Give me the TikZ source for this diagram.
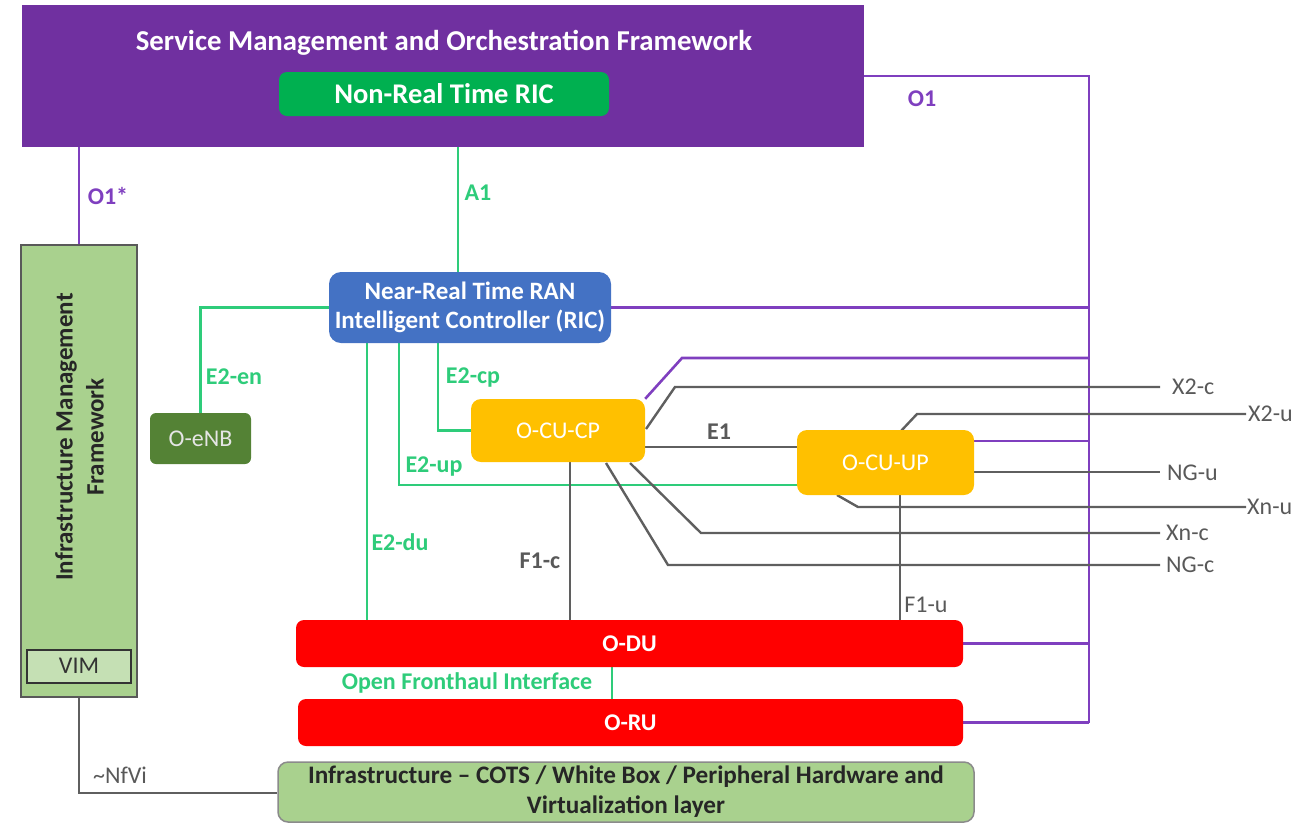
\documentclass[tikz,border=0pt]{standalone}
\usepackage{fontspec}
\setmainfont{Carlito}
\usetikzlibrary{backgrounds}
\definecolor{smoc}{HTML}{7030A0}
\definecolor{plc}{HTML}{7F3FBF}
\definecolor{nrtc}{HTML}{00B050}
\definecolor{glc}{HTML}{2ECC7A}
\definecolor{ricc}{HTML}{4472C4}
\definecolor{cuc}{HTML}{FFC000}
\definecolor{duc}{HTML}{FF0000}
\definecolor{enbc}{HTML}{548235}
\definecolor{imfc}{HTML}{A9D18E}
\definecolor{vimc}{HTML}{C5E0B4}
\definecolor{klc}{HTML}{5F5F5F}
\definecolor{ktc}{HTML}{595959}
\begin{document}
\begin{tikzpicture}[x=1pt,y=-1pt,
  font=\fontsize{24}{29}\selectfont,
  sz/.style 2 args={minimum width=#1pt,minimum height=#2pt,inner sep=0pt},
  wt/.style={text=white,align=center},
  bf/.style={font=\fontsize{24}{29}\selectfont\bfseries},
  pline/.style={draw=plc,line width=2.6pt},
  gline/.style={draw=glc,line width=2.4pt},
  kline/.style={draw=klc,line width=2.4pt},
  glbl/.style={text=glc,font=\fontsize{24}{29}\selectfont\bfseries,inner sep=0pt},
  plbl/.style={text=plc,font=\fontsize{24}{29}\selectfont\bfseries,inner sep=0pt},
  kblbl/.style={text=ktc,font=\fontsize{24}{29}\selectfont\bfseries,inner sep=0pt},
  klbl/.style={text=ktc,inner sep=0pt,anchor=west}]
\useasboundingbox (0,0) rectangle (1296,823);
% boxes
\node[fill=smoc,sz={842}{142}] (smo) at (443,76) {};
\node[wt,font=\fontsize{28.8}{33}\selectfont\bfseries] (smot) at (444,43) {Service Management and Orchestration Framework};
\node[fill=nrtc,rounded corners=8pt,sz={330}{44},wt,font=\fontsize{28.5}{33}\selectfont\bfseries] (nonrt) at (444,94) {Non-Real Time RIC};
\node[fill=ricc,rounded corners=12pt,sz={282}{71},wt,font=\fontsize{25}{29}\selectfont\bfseries] (ric) at (470,307.5) {Near-Real Time RAN\\Intelligent Controller (RIC)};
\node[fill=imfc,draw=ktc,line width=2pt,sz={116}{452}] (imf) at (79,471) {};
\node[rotate=90,align=center,text=black!85,font=\fontsize{25}{31}\selectfont\bfseries] (imft) at (79.5,437) {Infrastructure Management\\Framework};
\node[fill=vimc,draw=black!80,line width=2pt,sz={104}{33},text=black!80] (vim) at (79,666) {VIM};
\node[fill=enbc,rounded corners=6pt,sz={101}{51},text=white!90!black] (oenb) at (200.5,438.5) {O-eNB};
\node[fill=cuc,rounded corners=10pt,sz={174}{63},text=white] (cucp) at (558,430.5) {O-CU-CP};
\node[fill=cuc,rounded corners=10pt,sz={177}{65},text=white] (cuup) at (885.5,462.5) {O-CU-UP};
\node[fill=duc,rounded corners=8pt,sz={667}{47},wt,bf] (odu) at (629.5,643.5) {O-DU};
\node[fill=duc,rounded corners=8pt,sz={665}{47},wt,bf] (oru) at (630.5,722.5) {O-RU};
\node[fill=imfc,draw=ktc!70,line width=1.5pt,rounded corners=10pt,sz={696}{60},align=center,text=black!85,font=\fontsize{25.2}{30}\selectfont\bfseries] (infra) at (626,792) {Infrastructure -- COTS / White Box / Peripheral Hardware and\\Virtualization layer};
% coordinates
\coordinate (bus) at (1089,76);
\coordinate (a1x) at (458,0);
\coordinate (cpx) at (438,0);
\coordinate (upx) at (399,0);
\coordinate (dux) at (367,0);
\coordinate (fhx) at (612,0);
\coordinate (f1cx) at (570,0);
\coordinate (f1ux) at (900,0);
\coordinate (e1y) at (0,447);
\coordinate (upy) at (0,485);
\coordinate (cpbend) at (682,358);
\coordinate (x2cs) at (646,429);
\coordinate (x2cb) at (675,387);
\coordinate (x2ce) at (1160,387);
\coordinate (xncs) at (630,463);
\coordinate (xncb) at (701,533);
\coordinate (xnce) at (1160,533);
\coordinate (ngcs) at (606,463);
\coordinate (ngcb) at (668,565);
\coordinate (ngce) at (1160,565);
\coordinate (x2us) at (901,431);
\coordinate (x2ub) at (917,414);
\coordinate (x2ue) at (1246,414);
\coordinate (ngue) at (1160,472);
\coordinate (xnus) at (837,495);
\coordinate (xnub) at (858,507);
\coordinate (xnue) at (1246,507);
\coordinate (nfy) at (0,793);
% connectors
\begin{pgfonlayer}{background}
\draw[pline] (smo.east) -- (bus) -- (bus |- oru.east);
\draw[pline] (imf.north) -- (imf.north |- smo.south);
\draw[pline] (ric.east) -- (ric.east -| bus);
\draw[pline] (cucp.north east) -- (cpbend) -- (cpbend -| bus);
\draw[pline] (cuup.east |- 0,441) -- (bus |- 0,441);
\draw[pline] (odu.east) -- (odu.east -| bus);
\draw[pline] (oru.east) -- (oru.east -| bus);
\draw[gline] (nonrt.south -| a1x) -- (ric.north -| a1x);
\draw[gline] (ric.west) -| (oenb.north);
\draw[gline] (ric.south -| cpx) |- (cucp.west);
\draw[gline] (ric.south -| upx) |- (cuup.west |- upy);
\draw[gline] (ric.south -| dux) -- (odu.north -| dux);
\draw[gline] (odu.south -| fhx) -- (oru.north -| fhx);
\draw[kline] (cucp.east |- e1y) -- (cuup.west |- e1y);
\draw[kline] (x2cs) -- (x2cb) -- (x2ce);
\draw[kline] (xncs) -- (xncb) -- (xnce);
\draw[kline] (ngcs) -- (ngcb) -- (ngce);
\draw[kline] (cucp.south -| f1cx) -- (odu.north -| f1cx);
\draw[kline] (x2us) -- (x2ub) -- (x2ue);
\draw[kline] (cuup.east |- ngue) -- (ngue);
\draw[kline] (xnus) -- (xnub) -- (xnue);
\draw[kline] (cuup.south -| f1ux) -- (odu.north -| f1ux);
\draw[kline] (imf.south) |- (infra.west |- nfy);
\end{pgfonlayer}
% labels
\node[plbl] (lo1s) at (108,196) {O1*};
\node[plbl] (lo1) at (922,99) {O1};
\node[glbl] (la1) at (478,193) {A1};
\node[glbl] (le2en) at (234,377) {E2-en};
\node[glbl] (le2cp) at (473,378) {E2-cp};
\node[glbl] (le2up) at (434,467) {E2-up};
\node[glbl] (le2du) at (400,542) {E2-du};
\node[glbl] (lfh) at (467,683) {Open Fronthaul Interface};
\node[kblbl] (le1) at (719,432) {E1};
\node[kblbl] (lf1c) at (540,561) {F1-c};
\node[text=ktc,inner sep=0pt] (lf1u) at (926,605) {F1-u};
\node[text=ktc,inner sep=0pt] (lnf) at (120,775) {\textasciitilde NfVi};
\node[klbl] (lx2c) at (1172,387) {X2-c};
\node[klbl] (lx2u) at (1248,414) {X2-u};
\node[klbl] (lngu) at (1167,473) {NG-u};
\node[klbl] (lxnu) at (1247,507) {Xn-u};
\node[klbl] (lxnc) at (1166,533) {Xn-c};
\node[klbl] (lngc) at (1166,565) {NG-c};
\end{tikzpicture}
\end{document}
